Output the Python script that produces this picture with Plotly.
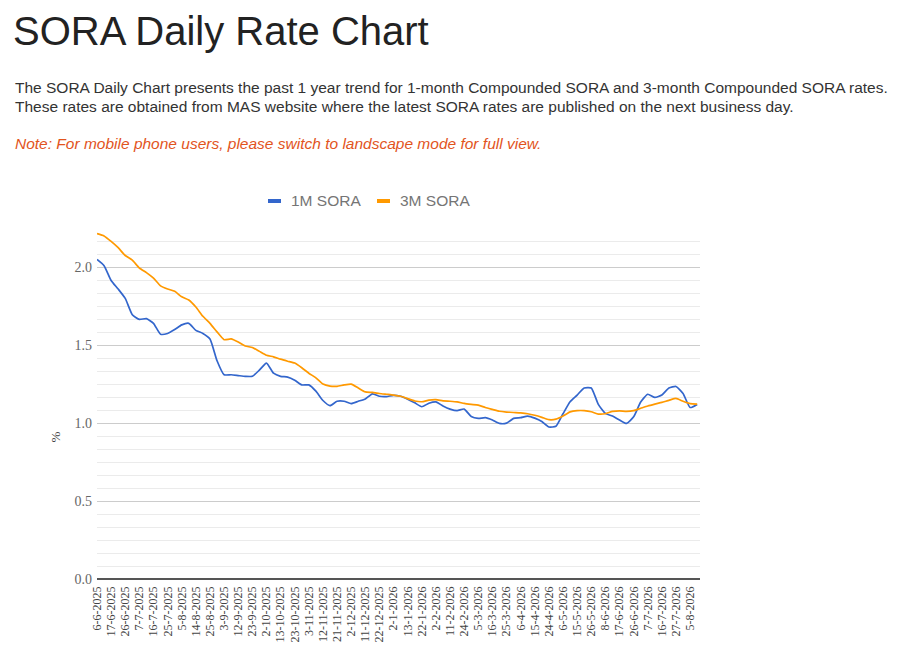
import plotly.graph_objects as go

# colours (google charts defaults)
blue = "#3366cc"
orange = "#ff9900"

# dates shown on the axis (every 7th business day) and the days in between
label_dates = ["6-6-2025", "17-6-2025", "26-6-2025", "7-7-2025", "16-7-2025", "25-7-2025",
    "5-8-2025", "14-8-2025", "25-8-2025", "3-9-2025", "12-9-2025", "23-9-2025", "2-10-2025",
    "13-10-2025", "23-10-2025", "3-11-2025", "12-11-2025", "21-11-2025", "2-12-2025",
    "11-12-2025", "22-12-2025", "2-1-2026", "13-1-2026", "22-1-2026", "2-2-2026", "11-2-2026",
    "24-2-2026", "5-3-2026", "16-3-2026", "25-3-2026", "6-4-2026", "15-4-2026", "24-4-2026",
    "6-5-2026", "15-5-2026", "26-5-2026", "8-6-2026", "17-6-2026", "26-6-2026", "7-7-2026",
    "16-7-2026", "27-7-2026", "5-8-2026"]
mid_dates = ["11-6-2025", "20-6-2025", "1-7-2025", "10-7-2025", "21-7-2025", "30-7-2025",
    "8-8-2025", "19-8-2025", "28-8-2025", "8-9-2025", "17-9-2025", "26-9-2025", "7-10-2025",
    "16-10-2025", "28-10-2025", "6-11-2025", "17-11-2025", "26-11-2025", "5-12-2025",
    "16-12-2025", "26-12-2025", "7-1-2026", "16-1-2026", "27-1-2026", "5-2-2026", "13-2-2026",
    "27-2-2026", "10-3-2026", "19-3-2026", "30-3-2026", "9-4-2026", "20-4-2026", "29-4-2026",
    "11-5-2026", "20-5-2026", "2-6-2026", "11-6-2026", "22-6-2026", "1-7-2026", "10-7-2026",
    "21-7-2026", "30-7-2026", "10-8-2026"]

sora_1m = [2.05, 2.01, 1.915, 1.86, 1.80, 1.695, 1.665, 1.67, 1.64, 1.57,
    1.575, 1.60, 1.63, 1.64, 1.595, 1.575, 1.54, 1.40, 1.31, 1.31,
    1.305, 1.30, 1.30, 1.34, 1.385, 1.32, 1.30, 1.295, 1.275, 1.245,
    1.245, 1.205, 1.145, 1.112, 1.14, 1.14, 1.125, 1.14, 1.155, 1.188,
    1.172, 1.17, 1.178, 1.172, 1.153, 1.13, 1.105, 1.127, 1.136, 1.11,
    1.09, 1.08, 1.09, 1.042, 1.03, 1.035, 1.02, 0.998, 1.0, 1.03,
    1.035, 1.045, 1.032, 1.01, 0.975, 0.98, 1.06, 1.137, 1.18, 1.225,
    1.225, 1.12, 1.062, 1.045, 1.02, 0.998, 1.04, 1.135, 1.185, 1.165,
    1.18, 1.225, 1.235, 1.19, 1.10, 1.12]

sora_3m = [2.215, 2.20, 2.165, 2.125, 2.075, 2.045, 1.995, 1.965, 1.93, 1.88,
    1.86, 1.845, 1.81, 1.79, 1.745, 1.685, 1.64, 1.585, 1.535, 1.54,
    1.52, 1.495, 1.485, 1.46, 1.435, 1.425, 1.41, 1.397, 1.385, 1.355,
    1.32, 1.29, 1.25, 1.237, 1.236, 1.245, 1.25, 1.225, 1.20, 1.197,
    1.19, 1.185, 1.18, 1.172, 1.157, 1.142, 1.137, 1.147, 1.15, 1.143,
    1.14, 1.136, 1.126, 1.12, 1.115, 1.10, 1.088, 1.076, 1.071, 1.068,
    1.065, 1.06, 1.05, 1.037, 1.022, 1.025, 1.045, 1.072, 1.08, 1.08,
    1.073, 1.058, 1.06, 1.075, 1.078, 1.075, 1.08, 1.095, 1.11, 1.122,
    1.133, 1.146, 1.158, 1.14, 1.125, 1.122]

dates = []
for a, b in zip(label_dates, mid_dates):
    dates += [a, b]

fig = go.Figure()
fig.add_trace(go.Scatter(x=dates, y=sora_1m, name="1M SORA", mode="lines",
    line=dict(color=blue, width=1.7, shape="spline", smoothing=0.5)))
fig.add_trace(go.Scatter(x=dates, y=sora_3m, name="3M SORA", mode="lines",
    line=dict(color=orange, width=1.7, shape="spline", smoothing=0.5)))

# page pixel -> paper coords (page body has an 8px margin; plot area is page x 97..700, y 229..579)
def px(x):
    return (x - 97) / 603

def py(y):
    return (579 - y) / 350

sans = "Liberation Sans, Arial, sans-serif"
serif = "Liberation Serif, Times New Roman, serif"

fig.add_annotation(text="SORA Daily Rate Chart", x=px(12), y=py(8), xref="paper", yref="paper",
    xanchor="left", yanchor="top", showarrow=False, borderpad=0,
    font=dict(family=sans, size=40, color="#222222"))
fig.add_annotation(text="The SORA Daily Chart presents the past 1 year trend for 1-month Compounded SORA and 3-month Compounded SORA rates.",
    x=px(13), y=py(87), xref="paper", yref="paper", xanchor="left", yanchor="middle",
    showarrow=False, font=dict(family=sans, size=15.5, color="#333333"))
fig.add_annotation(text="These rates are obtained from MAS website where the latest SORA rates are published on the next business day.",
    x=px(13), y=py(106), xref="paper", yref="paper", xanchor="left", yanchor="middle",
    showarrow=False, font=dict(family=sans, size=15.5, color="#333333"))
fig.add_annotation(text="<i>Note: For mobile phone users, please switch to landscape mode for full view.</i>",
    x=px(13), y=py(143), xref="paper", yref="paper", xanchor="left", yanchor="middle",
    showarrow=False, font=dict(family=sans, size=15.5, color="#e2541d"))
fig.add_annotation(text="%", x=px(45), y=py(437), xref="paper", yref="paper", textangle=-90,
    showarrow=False, font=dict(family=serif, size=13, color="#444444"))

# legend drawn google-style: short bar + label
for name, col, x0 in [("1M SORA", blue, 268), ("3M SORA", orange, 377)]:
    fig.add_shape(type="rect", xref="paper", yref="paper", x0=px(x0), x1=px(x0 + 13),
        y0=py(203), y1=py(199), fillcolor=col, line_width=0)
    fig.add_annotation(text=name, x=px(x0 + 21), y=py(201), xref="paper", yref="paper",
        xanchor="left", yanchor="middle", showarrow=False,
        font=dict(family=sans, size=15.5, color="#757575"))

fig.update_layout(width=894, height=647, showlegend=False,
    margin=dict(l=89, r=202, t=221, b=76),
    plot_bgcolor="white", paper_bgcolor="white")
fig.update_xaxes(type="category", range=[0, 85.4], tickvals=label_dates, ticktext=label_dates,
    tickangle=-90, showgrid=False, ticks="", showline=False, zeroline=False,
    ticklabelstandoff=4, tickfont=dict(family=serif, size=12, color="#444444"))
fig.update_yaxes(range=[0, 2.245], dtick=0.5, tickformat=".1f", gridcolor="#cccccc",
    zeroline=True, zerolinecolor="#555555", zerolinewidth=1.5, ticks="",
    minor=dict(dtick=0.5 / 6, showgrid=True, gridcolor="#ebebeb"),
    ticklabelstandoff=4, tickfont=dict(family=serif, size=14, color="#666666"))

fig.write_html("out.html")
